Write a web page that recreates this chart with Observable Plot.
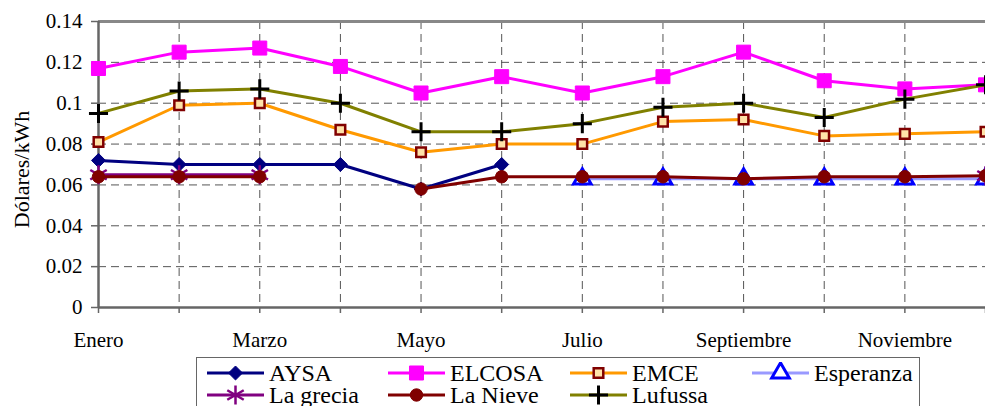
<!DOCTYPE html>
<html><head><meta charset="utf-8">
<script src="https://cdn.jsdelivr.net/npm/d3@7"></script>
<script src="https://cdn.jsdelivr.net/npm/@observablehq/plot@0.6"></script>
<style>
body{margin:0;background:#fff;font-family:"Liberation Serif","Times New Roman",serif;}
#wrap{position:relative;width:985px;height:406px;overflow:hidden;background:#fff}
#legend{position:absolute;left:196px;top:357px;width:724px;height:70px;border:1px solid #666;box-sizing:border-box;background:#fff}
.item{position:absolute;display:flex;align-items:center;height:22px;font-size:24px;line-height:22px;color:#000;white-space:nowrap}
.item svg{margin-right:5px;flex:none}
.item span{display:inline-block;height:22px;line-height:22px}
</style></head><body><div id="wrap"><div id="chart"></div><div id="legend"></div></div>
<script>
// ---- data ----
const months = ["Enero","Febrero","Marzo","Abril","Mayo","Junio","Julio","Agosto","Septiembre","Octubre","Noviembre","Diciembre"];
const monthLabels = ["Enero","","Marzo","","Mayo","","Julio","","Septiembre","","Noviembre",""];
const yTicks = [0, 0.02, 0.04, 0.06, 0.08, 0.1, 0.12, 0.14];
const yLabel = "Dólares/kWh";

const seriesNames = ["AYSA","ELCOSA","EMCE","Esperanza","La grecia","La Nieve","Lufussa"];
const AYSA      = [0.072, 0.070, 0.070, 0.070, 0.058, 0.070, null, null, null, null, null, null];
const ELCOSA    = [0.117, 0.125, 0.127, 0.118, 0.105, 0.113, 0.105, 0.113, 0.125, 0.111, 0.107, 0.109];
const EMCE      = [0.081, 0.099, 0.100, 0.087, 0.076, 0.080, 0.080, 0.091, 0.092, 0.084, 0.085, 0.086];
const Esperanza = [null, null, null, null, null, null, 0.063, 0.063, 0.063, 0.063, 0.063, 0.063];
const LaGrecia  = [0.065, 0.065, 0.065, null, null, null, null, null, null, null, null, 0.0645];
const LaNieve   = [0.064, 0.064, 0.064, null, 0.058, 0.064, 0.064, 0.064, 0.063, 0.064, 0.064, 0.0645];
const Lufussa   = [0.095, 0.106, 0.107, 0.100, 0.086, 0.086, 0.090, 0.098, 0.100, 0.093, 0.102, 0.109];
const seriesValues = [AYSA, ELCOSA, EMCE, Esperanza, LaGrecia, LaNieve, Lufussa];

// ---- styles ----
const FONT = '"Liberation Serif", "Times New Roman", serif';
const lineColors    = ["#000080","#FF00FF","#FF9900","#9999FF","#800080","#800000","#808000"];
const markerSymbols = ["diamond2","square","square","triangle2","asterisk","circle","plus"];
const markerFills   = ["#000080","#FF00FF","#FFE2A8","#FFFFFF","none","#800000","none"];
const markerStrokes = ["#000080","#FF00FF","#800000","#0000FF","#800080","#800000","#000000"];
const markerR       = [6.3, 7.9, 5.4, 8.4, 9, 6.2, 6.2];
const markerSW      = [1, 1, 2.5, 3, 2.5, 1, 3];

const table = [];
seriesNames.forEach((s, si) => seriesValues[si].forEach((v, mi) => table.push({series: s, si, month: mi, value: v})));

const gridStyle = {stroke: "#555", strokeOpacity: 1, strokeWidth: 1, strokeDasharray: "8,5"};
const marks = [
  Plot.gridY(yTicks.filter(d => d > 0 && d < 0.14), gridStyle),
  Plot.gridX(d3.range(1, months.length), gridStyle),
  Plot.ruleY([0.14], {stroke: "#888", strokeWidth: 3}),
  Plot.ruleY([0], {stroke: "#666", strokeWidth: 2.5}),
  Plot.ruleX([0], {stroke: "#666", strokeWidth: 2.5}),
  Plot.axisY({ticks: yTicks, tickSize: 7, tickPadding: 9, stroke: "#666", strokeWidth: 1.5,
    tickFormat: d => String(+d.toFixed(2)), label: null, fontSize: 21, fill: "#000"}),
  Plot.axisX({ticks: d3.range(months.length), tickSize: 6, stroke: "#666", strokeWidth: 1.5,
    tickFormat: () => "", label: null}),
  Plot.axisX({ticks: d3.range(months.length), tickSize: 0, tickPadding: 25,
    tickFormat: i => monthLabels[i], label: null, fontSize: 21, fill: "#000"}),
  Plot.text([yLabel], {frameAnchor: "left", dx: -77, dy: 5, rotate: -90, fontSize: 22,
    textAnchor: "middle", lineAnchor: "middle", fill: "#000"})
];
seriesNames.forEach((s, si) => {
  const rows = table.filter(d => d.si === si);
  marks.push(Plot.line(rows, {x: "month", y: "value", stroke: lineColors[si], strokeWidth: 3}));
  marks.push(Plot.dot(rows.filter(d => d.value != null), {x: "month", y: "value",
    symbol: () => markerSymbols[si], r: markerR[si], fill: markerFills[si],
    stroke: markerStrokes[si], strokeWidth: markerSW[si]}));
});

const chart = Plot.plot({
  width: 985, height: 357,
  marginLeft: 98, marginRight: 0, marginTop: 21, marginBottom: 50,
  x: {type: "linear", domain: [0, months.length - 1], axis: null},
  y: {domain: [0, 0.14], axis: null},
  symbol: {type: "identity"},
  style: {fontFamily: FONT, fontSize: "21px", background: "white", color: "#000"},
  marks
});
document.getElementById("chart").appendChild(chart);

// ---- legend ----
const symbolMap = {diamond2: d3.symbolDiamond2, square: d3.symbolSquare, triangle2: d3.symbolTriangle2,
  asterisk: d3.symbolAsterisk, circle: d3.symbolCircle, plus: d3.symbolPlus};
const legendOrder = [[0,1,2,3],[4,5,6]];
const colX = [10, 191, 373, 555];
const rowY = [4, 26];
const legend = d3.select("#legend");
legendOrder.forEach((row, ri) => row.forEach((si, ci) => {
  const item = legend.append("div").attr("class", "item")
    .style("left", colX[ci] + "px").style("top", rowY[ri] + "px");
  const svg = item.append("svg").attr("width", 57).attr("height", 22);
  svg.append("line").attr("x1", 0).attr("x2", 57).attr("y1", 11).attr("y2", 11)
    .attr("stroke", lineColors[si]).attr("stroke-width", 3);
  svg.append("path").attr("transform", "translate(28.5,11)")
    .attr("d", d3.symbol(symbolMap[markerSymbols[si]], Math.PI * markerR[si] * markerR[si])())
    .attr("fill", markerFills[si]).attr("stroke", markerStrokes[si]).attr("stroke-width", markerSW[si]);
  item.append("span").text(seriesNames[si]);
}));
</script></body></html>
